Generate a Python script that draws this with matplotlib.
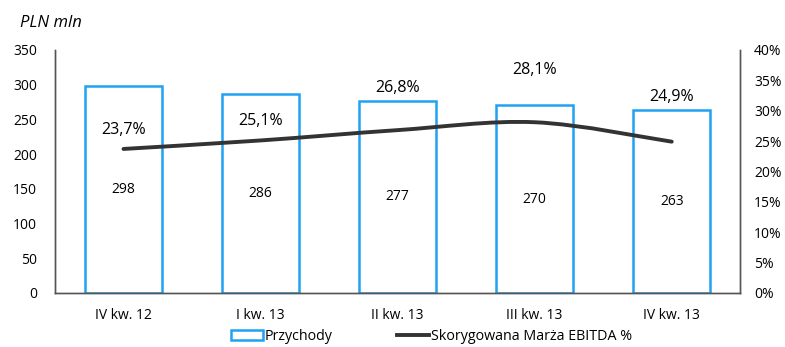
import matplotlib.pyplot as plt
from matplotlib.path import Path
from matplotlib.patches import PathPatch
from matplotlib.lines import Line2D
from matplotlib.patches import Patch

plt.rcParams['font.family'] = ['Open Sans', 'DejaVu Sans']

quarters = ['IV kw. 12', 'I kw. 13', 'II kw. 13', 'III kw. 13', 'IV kw. 13']
revenue = [298, 286, 277, 270, 263]
margin = [23.7, 25.1, 26.8, 28.1, 24.9]
margin_labels = ['23,7%', '25,1%', '26,8%', '28,1%', '24,9%']

blue = '#1fa2f2'
dark = '#333333'

fig = plt.figure(figsize=(7.85, 3.47), dpi=100)
ax = fig.add_axes([0.070, 0.156, 0.873, 0.700])
ax2 = ax.twinx()

x = list(range(len(quarters)))
ax.bar(x, revenue, width=0.56, facecolor='white', edgecolor=blue, linewidth=1.8, zorder=2)
for xi, v in zip(x, revenue):
    ax.text(xi, v / 2, str(v), ha='center', va='center', fontsize=10, zorder=4)

# smooth margin line (Catmull-Rom segments as cubic Bezier)
verts = [(x[0], margin[0])]
codes = [Path.MOVETO]
n = len(x)
for i in range(n - 1):
    p0 = (x[max(i - 1, 0)], margin[max(i - 1, 0)])
    p1 = (x[i], margin[i])
    p2 = (x[i + 1], margin[i + 1])
    p3 = (x[min(i + 2, n - 1)], margin[min(i + 2, n - 1)])
    c1 = (p1[0] + (p2[0] - p0[0]) / 6, p1[1] + (p2[1] - p0[1]) / 6)
    c2 = (p2[0] - (p3[0] - p1[0]) / 6, p2[1] - (p3[1] - p1[1]) / 6)
    verts += [c1, c2, p2]
    codes += [Path.CURVE4] * 3
ax2.add_patch(PathPatch(Path(verts, codes), facecolor='none', edgecolor=dark,
                        linewidth=2.8, capstyle='round', zorder=3))

label_y = [26.8, 28.3, 33.7, 36.7, 32.3]
for xi, ly, t in zip(x, label_y, margin_labels):
    ax2.text(xi, ly, t, ha='center', va='center', fontsize=11.5, zorder=4)

ax.set_xlim(-0.5, n - 0.5)
ax.set_ylim(0, 350)
ax.set_yticks(range(0, 351, 50))
ax2.set_ylim(0, 40)
ax2.set_yticks(range(0, 41, 5))
ax2.set_yticklabels([f'{v}%' for v in range(0, 41, 5)])
ax.set_xticks(x)
ax.set_xticklabels(quarters)

for a in (ax, ax2):
    a.spines['top'].set_visible(False)
    for s in ('left', 'right', 'bottom'):
        a.spines[s].set_color('#555555')
        a.spines[s].set_linewidth(1.0)
    a.tick_params(length=0, labelsize=10)
ax.tick_params(axis='x', pad=11)
ax.tick_params(axis='y', pad=13)
ax2.tick_params(axis='y', pad=10)

fig.text(0.025, 0.935, 'PLN mln', fontsize=12, style='italic', ha='left', va='center')

handles = [Patch(facecolor='white', edgecolor=blue, linewidth=1.8),
           Line2D([0], [0], color=dark, linewidth=2.8)]
fig.legend(handles, ['Przychody', 'Skorygowana Marża EBITDA %'], loc='center',
           bbox_to_anchor=(0.55, 0.03), ncol=2, frameon=False, fontsize=10.3,
           handlelength=2.2, handletextpad=0.15, columnspacing=4.5)

fig.savefig('out.png', dpi=100)
